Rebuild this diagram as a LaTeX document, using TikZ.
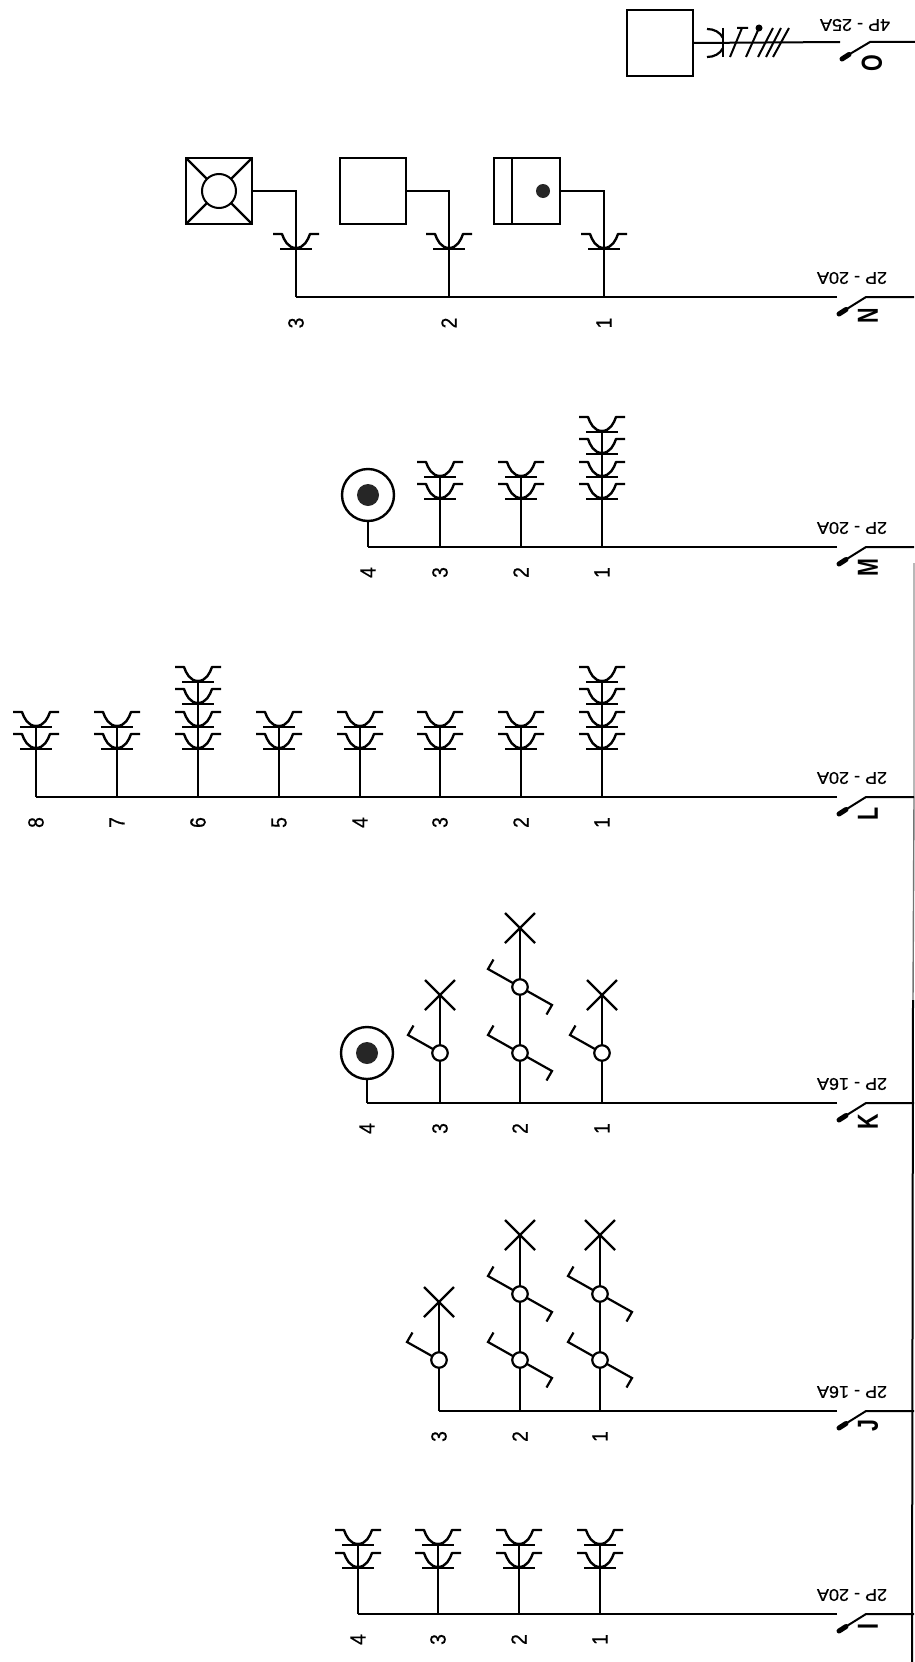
\documentclass[tikz,border=0pt]{standalone}
\usepackage{fontspec}
\setmainfont{Liberation Sans}
\newfontfamily\lblfont[FakeBold=0.6]{Liberation Sans}
\newcommand\ratetxt[1]{\scalebox{1.06}[1]{#1}}
\newcommand\digtxt[1]{\scalebox{0.88}[1]{#1}}
\newcommand\tagtxt[1]{\scalebox{0.74}[1]{#1}}
\tikzset{
  wire/.style={line width=2pt,black},
  heavy/.style={line width=2.8pt,black},
  blob/.style={line width=5pt,line cap=round,black},
  rating/.style={inner sep=0pt,rotate=180,font=\fontsize{17}{17}\lblfont},
  dig/.style={inner sep=0pt,rotate=90,font=\fontsize{22}{22}\lblfont},
  tagl/.style={inner sep=0pt,rotate=90,font=\fontsize{29}{29}\selectfont\bfseries},
  loadbox/.style={draw,line width=2.4pt,minimum size=66pt,inner sep=0pt,outer sep=0pt},
  sock/.pic={
    \draw[heavy] (-16,0)--(16,0);
    \draw[line width=2.4pt,line join=round] (-23,-15)--(-14,-15) .. controls (-12,-9) and (-8,-1) .. (0,-1)
      .. controls (8,-1) and (12,-9) .. (14,-15)--(23,-15);
  },
  lamp/.pic={
    \draw[line width=2.2pt] (-15,-15)--(15,15) (-15,15)--(15,-15);
  },
  swl/.pic={
    \draw[line width=2.2pt] (0,0)--(-32,-18)--(-26.5,-27.5);
    \node[circle,draw,line width=2.2pt,fill=white,minimum size=15.5pt,inner sep=0pt] at (0,0) {};
  },
  swd/.pic={
    \draw[line width=2.2pt] (0,0)--(-32,-18)--(-26.5,-27.5);
    \draw[line width=2.2pt] (0,0)--(32,18)--(26.5,27.5);
    \node[circle,draw,line width=2.2pt,fill=white,minimum size=15.5pt,inner sep=0pt] at (0,0) {};
  },
  bulb/.style={circle,draw,line width=2.4pt,minimum size=52pt,inner sep=0pt,outer sep=0pt},
  bulbdot/.style={circle,fill=black!85,minimum size=22pt,inner sep=0pt},
}
\newcommand\feeder[6]{%
  \coordinate (#1rail) at (914,#2);
  \coordinate (#1knee) at (866,#2);
  \coordinate (#1tip) at (846,#2+12.5);
  \coordinate (#1tipb) at (839,#2+17);
  \coordinate (#1end) at (837,#2);
  \coordinate (#1left) at (#3,#2);
  \draw[wire] (#1rail)--(#1knee)--(#1tip);
  \draw[blob] (#1tip)--(#1tipb);
  \draw[wire] (#1end)--(#1left);
  \node[rating] (#1rate) at (852,#2-19) {\ratetxt{#6}};
  \node[tagl] (#1tag) at (868,#5) {\tagtxt{#4}};
}
\newcommand\col[5]{% id,x,bus,top,number
  \coordinate (#1b) at (#2,#3);
  \coordinate (#1t) at (#2,#4);
  \draw[wire] (#1b)--(#1t);
  \node[dig] (#1n) at (#2,#3+25.5) {\digtxt{#5}};
}
\begin{document}
\begin{tikzpicture}[x=1pt,y=-1pt]
\useasboundingbox (0,0) rectangle (915,1662);
% rail
\coordinate (ra) at (914,563);
\coordinate (rb) at (914,797);
\coordinate (rc) at (913,1000);
\coordinate (rd) at (912,1662);
\draw[line width=1.3pt,black!28] (ra)--(rb);
\draw[line width=1.4pt,black!55] (rb)--(rc);
\draw[line width=2pt,black] (rc)--(rd);

% ---- I
\feeder{i}{1614}{358}{I}{1626}{2P - 20A}
\col{ia}{600}{1614}{1545}{1}
\col{ib}{519}{1614}{1545}{2}
\col{ic}{438}{1614}{1545}{3}
\col{id}{358}{1614}{1545}{4}
\foreach \x in {600,519,438,358} \foreach \y in {1568,1545} \pic at (\x,\y) {sock};

% ---- J
\feeder{j}{1411}{439}{J}{1426}{2P - 16A}
\col{ja}{600}{1411}{1235}{1}
\col{jb}{520}{1411}{1235}{2}
\col{jc}{439}{1411}{1302}{3}
\foreach \x in {600,520} {
  \pic at (\x,1360) {swd};
  \pic at (\x,1294) {swd};
  \pic at (\x,1235) {lamp};
}
\pic at (439,1360) {swl};
\pic at (439,1302) {lamp};

% ---- K
\feeder{k}{1103}{367}{K}{1122}{2P - 16A}
\col{ka}{602}{1103}{995}{1}
\col{kb}{520}{1103}{928}{2}
\col{kc}{440}{1103}{995}{3}
\node[dig] (kdn) at (367,1128.5) {\digtxt{4}};
\pic at (602,1053) {swl};
\pic at (602,995) {lamp};
\pic at (520,1053) {swd};
\pic at (520,987) {swd};
\pic at (520,928) {lamp};
\pic at (440,1053) {swl};
\pic at (440,995) {lamp};
\node[bulb] (kbulb) at (367,1053) {};
\node[bulbdot] (kbd) at (367,1053) {};
\coordinate (kdb) at (367,1103);
\draw[wire] (kbulb.south)--(kdb);

% ---- L
\feeder{l}{797}{36}{L}{813.5}{2P - 20A}
\col{la}{602}{797}{682}{1}
\col{lb}{521}{797}{727}{2}
\col{lc}{440}{797}{727}{3}
\col{ld}{360}{797}{727}{4}
\col{le}{279}{797}{727}{5}
\col{lf}{198}{797}{682}{6}
\col{lg}{117}{797}{727}{7}
\col{lh}{36}{797}{727}{8}
\foreach \x in {602,521,440,360,279,198,117,36} \foreach \y in {749,727} \pic at (\x,\y) {sock};
\foreach \x in {602,198} \foreach \y in {704,682} \pic at (\x,\y) {sock};

% ---- M
\feeder{m}{547}{368}{M}{568}{2P - 20A}
\col{ma}{602}{547}{432}{1}
\col{mb}{521}{547}{477}{2}
\col{mc}{440}{547}{477}{3}
\node[dig] (mdn) at (368,572.5) {\digtxt{4}};
\foreach \x in {602,521,440} \foreach \y in {499,477} \pic at (\x,\y) {sock};
\foreach \y in {454,432} \pic at (602,\y) {sock};
\node[bulb] (mbulb) at (368,495) {};
\node[bulbdot] (mbd) at (368,495) {};
\coordinate (mdb) at (368,547);
\draw[wire] (mbulb.south)--(mdb);

% ---- N
\feeder{n}{297}{296}{N}{316}{2P - 20A}
\node[loadbox] (na) at (527,191) {};
\node[loadbox] (nb) at (373,191) {};
\node[loadbox] (nc) at (219,191) {};
\draw[wire] ([xshift=18pt]na.north west)--([xshift=18pt]na.south west);
\node[circle,fill=black!85,minimum size=14pt,inner sep=0pt] (nad) at (543,191) {};
\node[circle,draw,line width=2pt,minimum size=34pt,inner sep=0pt,outer sep=0pt] (ncl) at (219,191) {};
\draw[line width=2.2pt] (nc.north west)--(ncl.north west) (nc.north east)--(ncl.north east)
  (nc.south west)--(ncl.south west) (nc.south east)--(ncl.south east);
\coordinate (nab) at (604,297); \coordinate (nat) at (604,191);
\coordinate (nbb) at (449,297); \coordinate (nbt) at (449,191);
\coordinate (ncb) at (296,297); \coordinate (nct) at (296,191);
\draw[wire] (nab)--(nat)--(na.east);
\draw[wire] (nbb)--(nbt)--(nb.east);
\draw[wire] (ncb)--(nct)--(nc.east);
\node[dig] (nan) at (604,323) {\digtxt{1}};
\node[dig] (nbn) at (449,323) {\digtxt{2}};
\node[dig] (ncn) at (296,323) {\digtxt{3}};
\foreach \x in {604,449,296} \pic at (\x,249) {sock};

% ---- O
\coordinate (orail) at (915,42);
\coordinate (oknee) at (870,42);
\coordinate (otip) at (849,54.5);
\coordinate (otipb) at (842,59);
\coordinate (oend) at (840,42);
\draw[wire] (orail)--(oknee)--(otip);
\draw[blob] (otip)--(otipb);
\node[loadbox] (oa) at (660,43) {};
\draw[wire] (oend)--(oa.east);
\node[rating] (orate) at (855,25) {\ratetxt{4P - 25A}};
\node[tagl] (otag) at (872,63) {\tagtxt{O}};
\draw[line width=2.4pt] (723,28)--(723,57);
\draw[line width=2.2pt] (707,29) .. controls (714,29) and (720,32) .. (723,38)
  (707,57) .. controls (714,57) and (720,54) .. (723,48);
\draw[line width=2pt] (730,57)--(742,28) (737,28)--(748,28) (746,57)--(759,28)
  (758,57)--(773,28) (766,57)--(781,28) (773,57)--(789,28);
\node[circle,fill=black,minimum size=7pt,inner sep=0pt] (odot) at (759,28) {};
\end{tikzpicture}
\end{document}
